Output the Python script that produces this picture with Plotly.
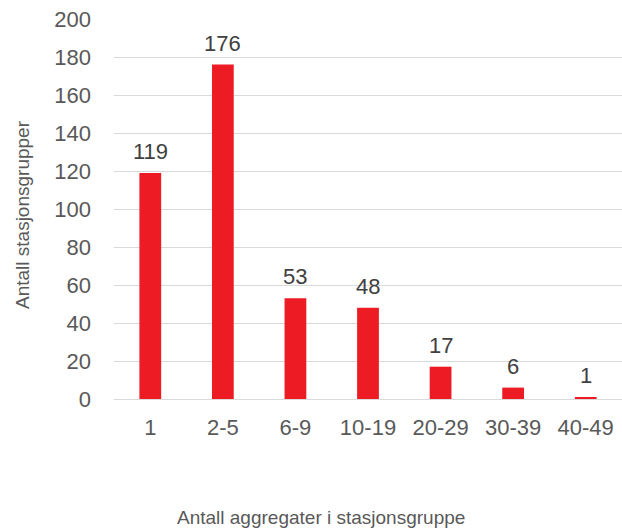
import plotly.graph_objects as go

# Number of station groups per aggregate-count bucket
categories = ["1", "2-5", "6-9", "10-19", "20-29", "30-39", "40-49"]
counts = [119, 176, 53, 48, 17, 6, 1]
y_ticks = [0, 20, 40, 60, 80, 100, 120, 140, 160, 180, 200]

FONT = "Arial, Liberation Sans, sans-serif"
GREY = "#595959"
RED = "#ED1C24"

W, H = 622, 529
M_L, M_R, M_T, M_B = 114, 0, 19, 130
plot_w = W - M_L - M_R
plot_h = H - M_T - M_B


def px_x(px):
    return (px - M_L) / plot_w


def px_y(py):
    return (H - M_B - py) / plot_h


fig = go.Figure(
    go.Bar(
        x=categories,
        y=counts,
        marker=dict(color=RED, line=dict(width=0)),
        hoverinfo="x+y",
    )
)

# Value labels above each bar (category axis positions are indices)
for i, val in enumerate(counts):
    fig.add_annotation(
        x=i, y=val, xref="x", yref="y",
        text=str(val), showarrow=False,
        yanchor="bottom", xanchor="center", yshift=7,
        font=dict(family=FONT, size=22, color="#404040"),
    )

fig.update_layout(
    width=W,
    height=H,
    margin=dict(l=M_L, r=M_R, t=M_T, b=M_B),
    paper_bgcolor="white",
    plot_bgcolor="white",
    bargap=0.7,
    showlegend=False,
    font=dict(family=FONT, color=GREY),
)

fig.update_xaxes(
    type="category",
    showgrid=False,
    showline=False,
    zeroline=False,
    ticks="",
    tickfont=dict(family=FONT, size=22, color=GREY),
    ticklabelstandoff=13,
)

fig.update_yaxes(
    range=[0, 200],
    tickvals=y_ticks,
    showgrid=True,
    gridcolor="#D9D9D9",
    gridwidth=1,
    zeroline=True,
    zerolinecolor="#D9D9D9",
    zerolinewidth=1,
    showline=False,
    ticks="",
    tickfont=dict(family=FONT, size=22, color=GREY),
    ticklabelstandoff=22,
)

# Axis titles
fig.add_annotation(
    text="Antall stasjonsgrupper",
    x=px_x(22), y=px_y(215), xref="paper", yref="paper",
    xanchor="center", yanchor="middle",
    showarrow=False, textangle=-90,
    font=dict(family=FONT, size=19, color=GREY),
)
fig.add_annotation(
    text="Antall aggregater i stasjonsgruppe",
    x=px_x(321), y=px_y(517), xref="paper", yref="paper",
    xanchor="center", yanchor="middle",
    showarrow=False,
    font=dict(family=FONT, size=19, color=GREY),
)

fig.write_html("out.html")
